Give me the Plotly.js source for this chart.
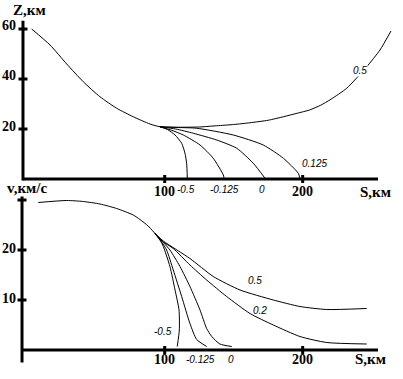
<!DOCTYPE html>
<html>
<head>
<meta charset="utf-8">
<script src="https://cdn.plot.ly/plotly-3.0.1.min.js"></script>
<style>html,body{margin:0;padding:0;background:#fff}#chart{width:403px;height:379px}</style>
</head>
<body>
<div id="chart"></div>
<script>
// ---------- DATA ----------
// Upper chart: altitude Z (km) vs path S (km)
const zMainS = [3.6, 16.9, 29, 41, 53.1, 65.2, 77.2, 89.3, 96.6, 110, 125, 137.7, 150, 161.8, 175, 186, 196, 205, 213, 220.5, 231.9, 246.4, 256, 264];
const zMainZ = [60, 53.6, 46, 38.9, 32.9, 28.3, 24.9, 22, 20.9, 20.7, 20.8, 21.3, 21.8, 22.5, 23.5, 24.9, 26.3, 27.6, 29.5, 31.9, 36.3, 44.9, 51.6, 59.2];

const zBranchM05S = [96.6, 102, 107.5, 112.3, 114.7, 115.9, 116.4];
const zBranchM05Z = [20.9, 19.8, 17.6, 14.3, 10.3, 6.3, 0.3];
const zBranchM0125S = [96.6, 105, 113.5, 125.6, 135.2, 142.5, 143];
const zBranchM0125Z = [20.9, 19.5, 17.6, 13.6, 8.3, 1.6, 0.3];
const zBranch0S = [96.6, 108, 120.7, 137.7, 152.2, 164.2, 172.7];
const zBranch0Z = [20.9, 20, 18.3, 15.6, 12.3, 6.3, 0.3];
const zBranchP0125S = [96.6, 110, 123.2, 149.7, 171.4, 186, 196.8, 198];
const zBranchP0125Z = [20.9, 20.6, 20.3, 17.6, 13.6, 8.3, 2.3, 0.3];

// Lower chart: velocity v (km/s) vs path S (km)
const vMainS = [8.4, 29, 41, 53.1, 65.2, 77.2, 82.1, 88, 93];
const vMainV = [29.5, 29.9, 29.7, 29.2, 28.3, 27, 26.1, 24.8, 23.3];

const vBranchP05S = [93, 99, 118.3, 135.2, 154.6, 178.7, 198, 217.4, 246.4];
const vBranchP05V = [23.3, 21.8, 18.3, 14.7, 12, 10, 8.7, 8.1, 8.3];
const vBranchP02S = [93, 99, 106.2, 118.3, 130.4, 144.9, 161.8, 178.7, 198, 217.4, 246.4];
const vBranchP02V = [23.3, 21.6, 20.3, 17, 14, 10.7, 7.3, 5, 2.7, 1.5, 1.2];
const vBranch0S = [93, 99, 103.8, 111.1, 118.3, 125.6, 130.4, 134.1, 140, 148.6];
const vBranch0V = [23.3, 21.5, 20, 16.7, 12.7, 8, 4.3, 2.7, 1.2, 0.7];
const vBranchM0125S = [93, 98, 101.4, 106.2, 112.3, 118.3, 123.2, 130.4];
const vBranchM0125V = [23.3, 21.5, 20, 16, 10.7, 5.3, 2.1, 0.7];
const vBranchM05S = [93, 97, 99, 103.8, 107.5, 110.4, 110.6, 109.1];
const vBranchM05V = [23.3, 21.8, 20.7, 16.7, 12, 8, 4, 0.7];

// Tick values / labels
const sTicks = [100, 200];
const sTickLabels = ["100", "200"];
const zTicks = [20, 40, 60];
const zTickLabels = ["20", "40", "60"];
const vTicks = [10, 20, 30];
const vTickLabels = ["10", "20", ""];

// Curve labels
const zCurveLabels = [
  {text: "0.5", s: 241.7, z: 43.2, shift: 0},
  {text: "0.125", s: 208.9, z: 6.4, shift: 0},
  {text: "-0.5", s: 115.4, z: 0, shift: -10},
  {text: "-0.125", s: 143.7, z: 0, shift: -10},
  {text: "0", s: 170.5, z: 0, shift: -10}
];
const vCurveLabels = [
  {text: "0.5", s: 165.4, v: 14, shift: 0},
  {text: "0.2", s: 169, v: 8, shift: 0},
  {text: "-0.5", s: 98.8, v: 3.8, shift: 0},
  {text: "-0.125", s: 126.3, v: 0, shift: -9},
  {text: "0", s: 148, v: 0, shift: -9}
];

// ---------- LAYOUT CONSTANTS ----------
const W = 403, H = 379;
const sRange = [-19.35, 272.7];
const zRange = [-2.4, 69.6];
const vRange = [-4, 32];
const topAxisS = -2.7, botAxisS = -3.4, xAxisEnd = 254.6;
const zAxisTop = 63.3, vAxisTop = 30.7, vAxisBottom = -2.5;

const line = {color: "#000", width: 1, shape: "spline", smoothing: 0.6};
function tr(x, y, xa, ya) { return {x: x, y: y, xaxis: xa, yaxis: ya, mode: "lines", line: line, hoverinfo: "skip", showlegend: false}; }

const traces = [
  tr(zMainS, zMainZ, "x", "y"),
  tr(zBranchM05S, zBranchM05Z, "x", "y"),
  tr(zBranchM0125S, zBranchM0125Z, "x", "y"),
  tr(zBranch0S, zBranch0Z, "x", "y"),
  tr(zBranchP0125S, zBranchP0125Z, "x", "y"),
  tr(vMainS, vMainV, "x2", "y2"),
  tr(vBranchP05S, vBranchP05V, "x2", "y2"),
  tr(vBranchP02S, vBranchP02V, "x2", "y2"),
  tr(vBranch0S, vBranch0V, "x2", "y2"),
  tr(vBranchM0125S, vBranchM0125V, "x2", "y2"),
  tr(vBranchM05S, vBranchM05V, "x2", "y2")
];

const axisBase = {showgrid: false, zeroline: false, showticklabels: false, ticks: "", showline: false, fixedrange: true};

const shapes = [];
const axLine = {color: "#000", width: 3};
// top chart axes
shapes.push({type: "line", xref: "x", yref: "y", x0: topAxisS, x1: xAxisEnd, y0: 0, y1: 0, line: axLine});
shapes.push({type: "line", xref: "x", yref: "y", x0: topAxisS, x1: topAxisS, y0: -0.6, y1: zAxisTop, line: axLine});
// bottom chart axes
shapes.push({type: "line", xref: "x2", yref: "y2", x0: botAxisS, x1: xAxisEnd, y0: 0, y1: 0, line: axLine});
shapes.push({type: "line", xref: "x2", yref: "y2", x0: botAxisS, x1: botAxisS, y0: vAxisBottom, y1: vAxisTop, line: axLine});
// tick crosses
sTicks.forEach(function (s) {
  shapes.push({type: "line", xref: "x", yref: "y", ysizemode: "pixel", yanchor: 0, x0: s, x1: s, y0: -4, y1: 4, line: axLine});
  shapes.push({type: "line", xref: "x2", yref: "y2", ysizemode: "pixel", yanchor: 0, x0: s, x1: s, y0: -4, y1: 4, line: axLine});
});
zTicks.forEach(function (z) {
  shapes.push({type: "line", xref: "x", yref: "y", xsizemode: "pixel", xanchor: topAxisS, x0: -4.5, x1: 4.5, y0: z, y1: z, line: axLine});
});
vTicks.forEach(function (v) {
  shapes.push({type: "line", xref: "x2", yref: "y2", xsizemode: "pixel", xanchor: botAxisS, x0: -4.5, x1: 4.5, y0: v, y1: v, line: axLine});
});

const tickFont = {family: "Liberation Serif, Times New Roman, serif", size: 14, color: "#000", weight: "bold"};
const titleFont = {family: "Liberation Serif, Times New Roman, serif", size: 15, color: "#000", weight: "bold"};
const curveFont = {family: "Liberation Sans, Arial, sans-serif", size: 10, color: "#000", style: "italic"};

const annotations = [];
sTicks.forEach(function (s, i) {
  annotations.push({xref: "x", yref: "y", x: s, y: 0, yshift: -12, text: sTickLabels[i], showarrow: false, font: tickFont, xanchor: "center", yanchor: "middle"});
  annotations.push({xref: "x2", yref: "y2", x: s, y: 0, yshift: -9, text: sTickLabels[i], showarrow: false, font: tickFont, xanchor: "center", yanchor: "middle"});
});
zTicks.forEach(function (z, i) {
  annotations.push({xref: "x", yref: "y", x: topAxisS, y: z, xshift: -5, yshift: 3, text: zTickLabels[i], showarrow: false, font: tickFont, xanchor: "right", yanchor: "middle"});
});
vTicks.forEach(function (v, i) {
  if (!vTickLabels[i]) return;
  annotations.push({xref: "x2", yref: "y2", x: botAxisS, y: v, xshift: -4, yshift: 2, text: vTickLabels[i], showarrow: false, font: tickFont, xanchor: "right", yanchor: "middle"});
});
// axis titles
annotations.push({xref: "x", yref: "y", x: 253.1, y: 0, yshift: -13, text: "S,км", showarrow: false, font: titleFont, xanchor: "center", yanchor: "middle"});
annotations.push({xref: "x2", yref: "y2", x: 249.5, y: 0, yshift: -9, text: "S,км", showarrow: false, font: titleFont, xanchor: "center", yanchor: "middle"});
annotations.push({xref: "paper", yref: "paper", x: 30 / W, y: 1 - 10 / H, text: "Z,км", showarrow: false, font: titleFont, xanchor: "center", yanchor: "middle"});
annotations.push({xref: "paper", yref: "paper", x: 27 / W, y: 1 - 188 / H, text: "v,км/с", showarrow: false, font: titleFont, xanchor: "center", yanchor: "middle"});
// curve labels
zCurveLabels.forEach(function (c) {
  annotations.push({xref: "x", yref: "y", x: c.s, y: c.z, yshift: c.shift, text: c.text, showarrow: false, font: curveFont, xanchor: "center", yanchor: "middle", bgcolor: c.shift ? "rgba(0,0,0,0)" : "#fff", borderpad: 0});
});
vCurveLabels.forEach(function (c) {
  annotations.push({xref: "x2", yref: "y2", x: c.s, y: c.v, yshift: c.shift, text: c.text, showarrow: false, font: curveFont, xanchor: "center", yanchor: "middle"});
});

const layout = {
  width: W, height: H,
  margin: {l: 0, r: 0, t: 0, b: 0, pad: 0},
  paper_bgcolor: "#fff", plot_bgcolor: "rgba(0,0,0,0)",
  showlegend: false,
  xaxis: Object.assign({}, axisBase, {domain: [0, 1], range: sRange, anchor: "y"}),
  yaxis: Object.assign({}, axisBase, {domain: [1 - 185 / H, 1 - 5 / H], range: zRange, anchor: "x"}),
  xaxis2: Object.assign({}, axisBase, {domain: [0, 1], range: sRange, anchor: "y2"}),
  yaxis2: Object.assign({}, axisBase, {domain: [1 - 370 / H, 1 - 190 / H], range: vRange, anchor: "x2"}),
  shapes: shapes,
  annotations: annotations
};

Plotly.newPlot("chart", traces, layout, {staticPlot: true, displayModeBar: false});
</script>
</body>
</html>
